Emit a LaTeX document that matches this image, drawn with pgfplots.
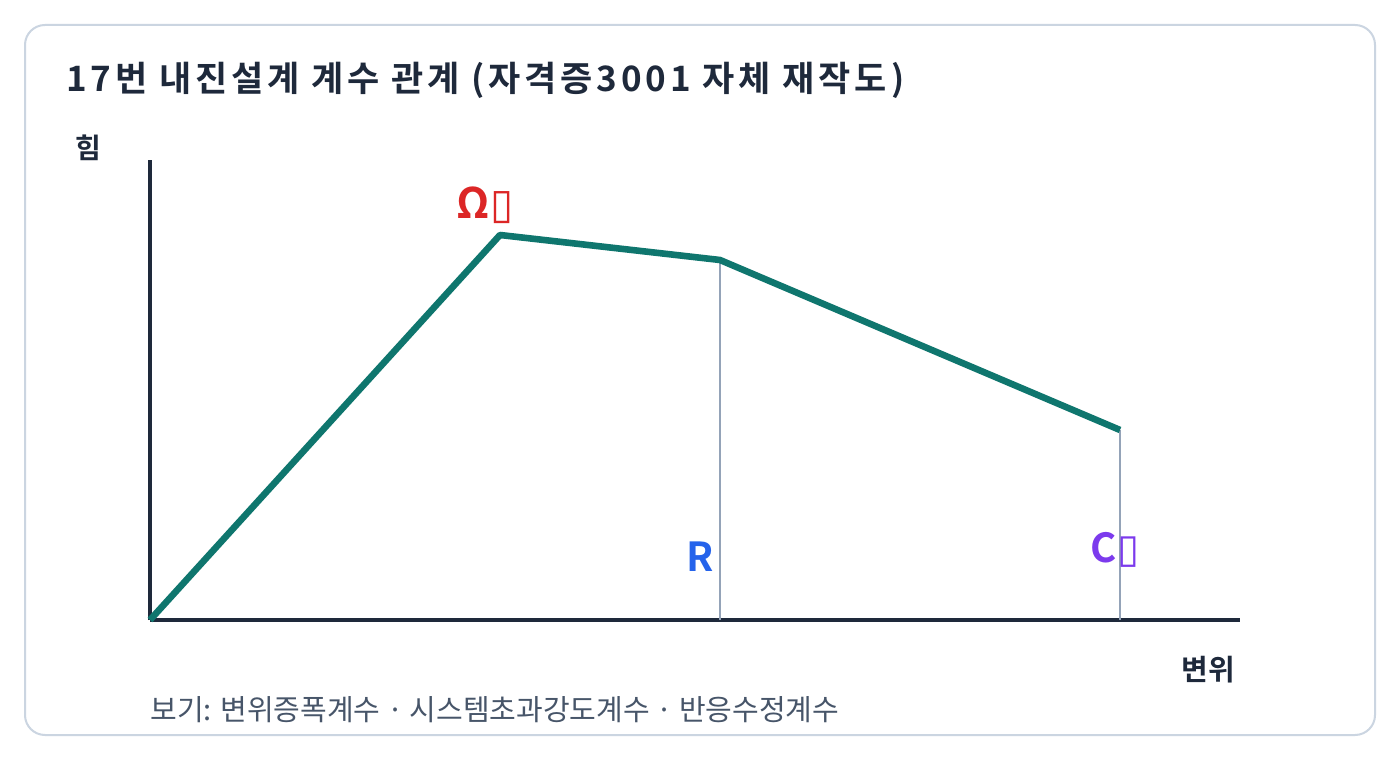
\documentclass[border=0pt]{standalone}
\usepackage{pgfplots}
\pgfplotsset{compat=1.18}
\usepackage{fontspec}
\setmainfont{Noto Sans CJK KR}[BoldFont={* Bold}]
\newfontfamily\dejavu{DejaVu Sans}
\newfontfamily\titlefont{Noto Sans CJK KR Bold}[LetterSpace=11]
\definecolor{ink}{HTML}{1E293B}
\definecolor{teal}{HTML}{0F766E}
\definecolor{guide}{HTML}{94A3B8}
\definecolor{cred}{HTML}{DC2626}
\definecolor{cblue}{HTML}{2563EB}
\definecolor{cpurple}{HTML}{7C3AED}
\definecolor{foot}{HTML}{475569}
\definecolor{card}{HTML}{CBD5E1}
\newcommand{\tofu}{{\dejavu\char"25AF}}
\begin{document}
\begin{tikzpicture}
\path[fill=white] (0,0) rectangle (700pt,380pt);
\draw[card, line width=1pt, rounded corners=10pt] (12.5pt,12.5pt) rectangle (687.5pt,367.5pt);
\node[anchor=west, text=ink, font=\titlefont\fontsize{17.5}{20}\selectfont, inner sep=0pt] at (33pt,340pt) {17번 내진설계 계수 관계 (자격증3001 자체 재작도)};
\node[text=ink, font=\fontsize{14}{17}\selectfont\bfseries, inner sep=0pt] at (44pt,306pt) {힘};
\node[text=ink, font=\fontsize{14.5}{17}\selectfont\bfseries, inner sep=0pt] at (604pt,45pt) {변위};
\node[anchor=west, text=foot, font=\fontsize{14.5}{17}\selectfont, inner sep=0pt] at (75pt,25pt) {보기: 변위증폭계수 · 시스템초과강도계수 · 반응수정계수};
\begin{axis}[
  at={(75pt,70pt)}, anchor=origin,
  scale only axis, width=545pt, height=230pt,
  xmin=0, xmax=1090, ymin=0, ymax=460,
  axis lines=left, axis line style={ink, line width=2pt, -},
  ticks=none, clip=false,
]
\addplot[guide, line width=1.4pt] coordinates {(570,0) (570,360)};
\addplot[guide, line width=1.4pt] coordinates {(970,0) (970,190)};
\addplot[teal, line width=3.3pt, line join=round] coordinates {(0,0) (350,385) (570,360) (970,190)};
\node[text=cred, font=\fontsize{21}{24}\selectfont\bfseries] at (axis cs:335,415) {Ω\tofu};
\node[text=cblue, font=\fontsize{20}{23}\selectfont\bfseries] at (axis cs:550,63) {R};
\node[text=cpurple, font=\fontsize{20}{23}\selectfont\bfseries] at (axis cs:965,70) {C\tofu};
\end{axis}
\end{tikzpicture}
\end{document}
